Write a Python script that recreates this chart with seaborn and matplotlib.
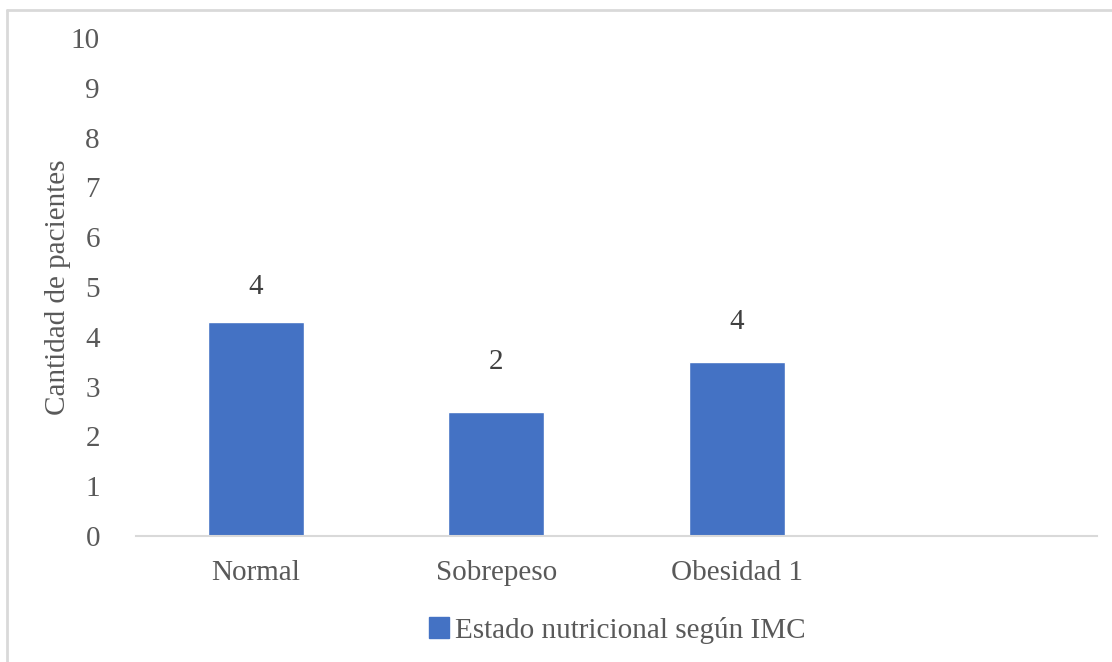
import seaborn as sns
import pandas as pd
import matplotlib.pyplot as plt
from matplotlib.lines import Line2D
from matplotlib.patches import Patch

# Datos
categorias = ["Normal", "Sobrepeso", "Obesidad 1"]
valores = [4.3, 2.5, 3.5]
etiquetas = ["4", "2", "4"]
serie = "Estado nutricional según IMC"
y_ticks = list(range(0, 11))

df = pd.DataFrame({"categoria": categorias, "valor": valores})

sns.set_theme(style="white")
plt.rcParams['font.family'] = ['Liberation Serif', 'DejaVu Serif']

azul = "#4472c4"
gris_txt = "#595959"
gris_linea = "#d9d9d9"

fig = plt.figure(figsize=(11.12, 6.62), dpi=100)
ax = fig.add_axes([0.1223, 0.1903, 0.8642, 0.7523])

sns.barplot(data=df, x="categoria", y="valor", color=azul, width=0.4,
            saturation=1, ax=ax)

# las etiquetas no están a la misma distancia de cada barra
separacion = [16, 26, 19]
for barra, texto, sep in zip(ax.containers[0], etiquetas, separacion):
    ax.annotate(texto, (barra.get_x() + barra.get_width() / 2, barra.get_height()),
                xytext=(0, sep), textcoords="offset points",
                ha="center", va="bottom", fontsize=21, color="#404040")

ax.set_xlim(-0.5, 3.5)
ax.set_ylim(0, 10)
ax.set_yticks(y_ticks)
ax.tick_params(axis="y", labelsize=21, labelcolor=gris_txt, pad=26, length=0)
ax.tick_params(axis="x", labelsize=21, labelcolor=gris_txt, pad=17, length=0)

for s in ["top", "right", "left"]:
    ax.spines[s].set_visible(False)
ax.spines["bottom"].set_color(gris_linea)
ax.spines["bottom"].set_linewidth(1.5)

ax.set_xlabel("")
ax.set_ylabel("Cantidad de pacientes", fontsize=21, color=gris_txt, labelpad=0)

handle = Patch(facecolor=azul, edgecolor=azul)
fig.legend([handle], [serie], loc="center", bbox_to_anchor=(0.555, 0.048),
           frameon=False, fontsize=21, labelcolor=gris_txt,
           handlelength=0.7, handleheight=0.7, handletextpad=0.2)

# borde del área del gráfico
fig.add_artist(Line2D([6.5 / 1112, 6.5 / 1112], [0, 1 - 10 / 662],
                      transform=fig.transFigure, color=gris_linea, lw=2))
fig.add_artist(Line2D([6.5 / 1112, 1], [1 - 10 / 662, 1 - 10 / 662],
                      transform=fig.transFigure, color=gris_linea, lw=2))

fig.savefig("out.png", dpi=100, facecolor="white")
